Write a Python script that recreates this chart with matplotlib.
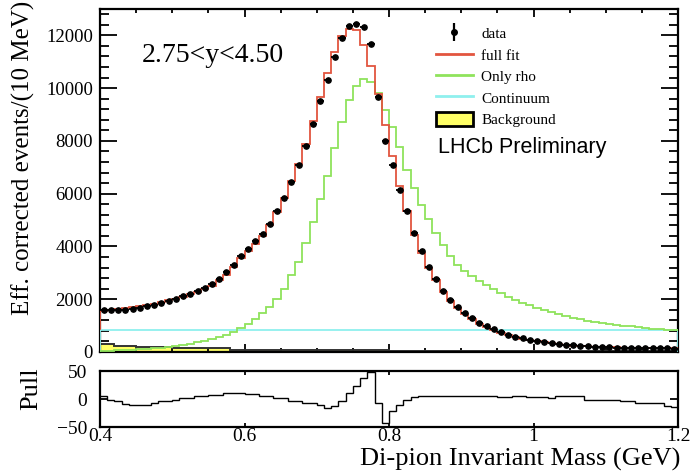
import numpy as np
import matplotlib
matplotlib.use("Agg")
import matplotlib.pyplot as plt
from matplotlib.lines import Line2D
from matplotlib.patches import Patch
from matplotlib.legend_handler import HandlerTuple

# --------------------------------------------------
# DATA (10 MeV bins from 0.4 to 1.2 GeV)
# --------------------------------------------------
mass_lo = 0.4
mass_hi = 1.2
n_bins = 80

data_vals = [
    1600, 1580, 1590, 1610, 1640, 1680, 1730, 1790, 1860, 1940,
    2020, 2110, 2210, 2320, 2440, 2570, 2780, 3030, 3310, 3650,
    3910, 4190, 4480, 4860, 5350, 5850, 6440, 7070, 7800, 8640,
    9510, 10300, 11180, 11910, 12340, 12440, 12320, 11660, 9650, 7990,
    7080, 6150, 5330, 4500, 3810, 3230, 2750, 2320, 1975, 1700,
    1470, 1270, 1100, 970, 860, 740, 660, 580, 520, 470,
    420, 380, 340, 305, 280, 255, 240, 225, 205, 190,
    180, 170, 160, 155, 150, 145, 140, 140, 135, 130,
]

fit_vals = [
    1570, 1585, 1615, 1665, 1705, 1745, 1795, 1835, 1890, 1970,
    2025, 2095, 2195, 2275, 2395, 2505, 2715, 2935, 3210, 3545,
    3820, 4095, 4415, 4795, 5325, 5825, 6480, 7110, 7900, 8745,
    9665, 10560, 11385, 11980, 12250, 12200, 11645, 10840, 9760, 8590,
    7420, 6275, 5355, 4445, 3770, 3185, 2710, 2280, 1945, 1665,
    1440, 1245, 1080, 950, 840, 720, 645, 565, 505, 455,
    405, 370, 335, 290, 265, 240, 230, 227, 207, 192,
    182, 172, 168, 163, 166, 160, 155, 155, 158, 155,
]
fit_start = 835

rho_vals = [
    40, 50, 60, 70, 85, 100, 115, 135, 155, 185,
    225, 270, 320, 370, 420, 490, 560, 650, 760, 900,
    1060, 1250, 1470, 1720, 2000, 2400, 2900, 3430, 4130, 4910,
    5800, 6680, 7740, 8720, 9540, 10100, 10330, 10250, 9820, 9190,
    8530, 7770, 6910, 6220, 5580, 5040, 4510, 4060, 3620, 3300,
    3080, 2880, 2700, 2530, 2380, 2235, 2100, 1980, 1870, 1765,
    1670, 1580, 1500, 1425, 1360, 1300, 1240, 1190, 1140, 1100,
    1060, 1030, 1000, 970, 940, 910, 880, 860, 845, 840,
]

continuum_level = 830

bkg_vals = [
    300, 300, 235, 235, 235, 190, 190, 190, 190, 190,
    150, 150, 150, 150, 150, 150, 150, 150, 60, 60,
    60, 60, 60, 60, 60, 60, 60, 60, 60, 60,
    60, 60, 60, 60, 60, 60, 60, 60, 60, 60,
    45, 45, 45, 45, 45, 45, 45, 45, 45, 45,
    45, 45, 45, 45, 45, 45, 45, 45, 45, 45,
    35, 35, 35, 35, 35, 35, 35, 35, 35, 35,
    35, 35, 35, 35, 35, 35, 35, 35, 35, 35,
]

pull_vals = [
    5, -1, -4, -9, -10, -10, -10, -7, -4, -4,
    -1, 2, 2, 6, 6, 8, 8, 11, 11, 11,
    9, 9, 6, 6, 2, 2, -3, -3, -7, -7,
    -10, -16, -12, -4, 11, 23, 38, 48, -7, -42,
    -22, -10, -2, 4, 5, 5, 5, 6, 5, 5,
    6, 6, 5, 5, 5, 4, 4, 5, 5, 4,
    4, 4, 1, 5, 5, 5, 5, -1, -1, -1,
    -1, -1, -4, -4, -8, -8, -8, -8, -12, -14,
]

y_ticks = [0, 2000, 4000, 6000, 8000, 10000, 12000]
x_ticks = [0.4, 0.6, 0.8, 1.0, 1.2]
x_tick_labels = ["0.4", "0.6", "0.8", "1", "1.2"]

# --------------------------------------------------
# STYLE
# --------------------------------------------------
plt.rcParams["font.family"] = "Liberation Serif"
red = "#e2553f"
green = "#8fe35c"
cyan = "#8ff0ee"
yellow = "#ffff66"

edges = np.linspace(mass_lo, mass_hi, n_bins + 1)
centers = 0.5 * (edges[1:] + edges[:-1])
half_bin = 0.5 * (edges[1] - edges[0])

W, H = 693, 471
fig = plt.figure(figsize=(W / 100, H / 100), dpi=100)
ax = fig.add_axes([100 / W, 119 / H, 578 / W, 343 / H])
axp = fig.add_axes([100 / W, 44 / H, 578 / W, 56 / H])

# --------------------------------------------------
# MAIN PANEL
# --------------------------------------------------
ax.stairs(bkg_vals, edges, fill=True, color=yellow, zorder=1)
ax.stairs(bkg_vals, edges, baseline=None, color="#333333", lw=1.4, zorder=2)
ax.stairs([continuum_level] * n_bins, edges, baseline=0, color=cyan, lw=1.3, zorder=3)
ax.stairs(rho_vals, edges, baseline=None, color=green, lw=1.3, zorder=4)
ax.stairs(fit_vals, edges, baseline=None, color=red, lw=1.3, zorder=5)
ax.vlines(mass_lo, fit_start, fit_vals[0], color=red, lw=1.3, zorder=5)
ax.errorbar(centers, data_vals, xerr=half_bin, fmt="o", ms=3.8, color="black",
            elinewidth=1.3, capsize=0, zorder=6)

ax.set_xlim(mass_lo, mass_hi)
ax.set_ylim(0, 13000)
ax.set_yticks(y_ticks)
ax.set_yticklabels([str(v) for v in y_ticks])
ax.yaxis.set_minor_locator(plt.MultipleLocator(400))
ax.set_xticks(x_ticks)
ax.xaxis.set_minor_locator(plt.MultipleLocator(0.05))
ax.tick_params(axis="x", which="both", direction="in", top=True, bottom=True,
               labelbottom=False, width=1.3)
ax.tick_params(axis="x", which="major", length=6)
ax.tick_params(axis="x", which="minor", length=3)
ax.tick_params(axis="y", which="both", direction="in", left=True, right=True,
               width=1.3, labelsize=13.5, pad=5)
ax.tick_params(axis="y", which="major", length=12.5)
ax.tick_params(axis="y", which="minor", length=6.5)
for s in ax.spines.values():
    s.set_linewidth(1.6)

ax.text((142 - 100) / 578, 1 - (55 - 9) / 343, "2.75<y<4.50", transform=ax.transAxes,
        fontsize=20, ha="left", va="center")
fig.text(438 / W, 1 - 148 / H, "LHCb Preliminary", family="Liberation Sans",
         fontsize=15.5, ha="left", va="center")

data_handle = (Line2D([], [], ls="none", marker="|", ms=13, mew=1.6, color="black"),
               Line2D([], [], ls="none", marker="o", ms=4, color="black"))
handles = [
    data_handle,
    Line2D([], [], color=red, lw=2),
    Line2D([], [], color=green, lw=2),
    Line2D([], [], color=cyan, lw=2),
    Patch(facecolor=yellow, edgecolor="black", lw=2),
]
labels = ["data", "full fit", "Only rho", "Continuum", "Background"]
fig.legend(handles, labels, loc="upper left",
           bbox_to_anchor=(436 / W, 1 - 26 / H), bbox_transform=fig.transFigure,
           frameon=False, fontsize=11, handlelength=2.4, handleheight=1.0,
           handletextpad=0.55, labelspacing=0.42, borderpad=0, borderaxespad=0,
           numpoints=1, handler_map={tuple: HandlerTuple(ndivide=1)})

fig.text(23 / W, 1 - 158 / H, "Eff. corrected events/(10 MeV)", rotation=90,
         fontsize=18, ha="center", va="center")

# --------------------------------------------------
# PULL PANEL
# --------------------------------------------------
axp.stairs(pull_vals, edges, baseline=None, color="black", lw=1.0)
axp.set_xlim(mass_lo, mass_hi)
axp.set_ylim(-50, 50)
axp.set_yticks([-50, 0, 50])
axp.set_yticklabels(["\u221250", "0", "50"])
axp.set_xticks(x_ticks)
axp.set_xticklabels(x_tick_labels)
axp.tick_params(axis="x", direction="in", top=True, bottom=True, length=3,
                width=1.3, labelsize=14, pad=0.5)
axp.tick_params(axis="y", direction="in", left=True, right=True, length=6,
                width=1.3, labelsize=14, pad=9)
for s in axp.spines.values():
    s.set_linewidth(1.6)

fig.text(31 / W, 1 - 389 / H, "Pull", rotation=90, fontsize=19,
         ha="center", va="center")
fig.text(680 / W, 1 - 471 / H, "Di-pion Invariant Mass (GeV)", fontsize=19,
         ha="right", va="bottom")

fig.savefig("out.png", dpi=100)
